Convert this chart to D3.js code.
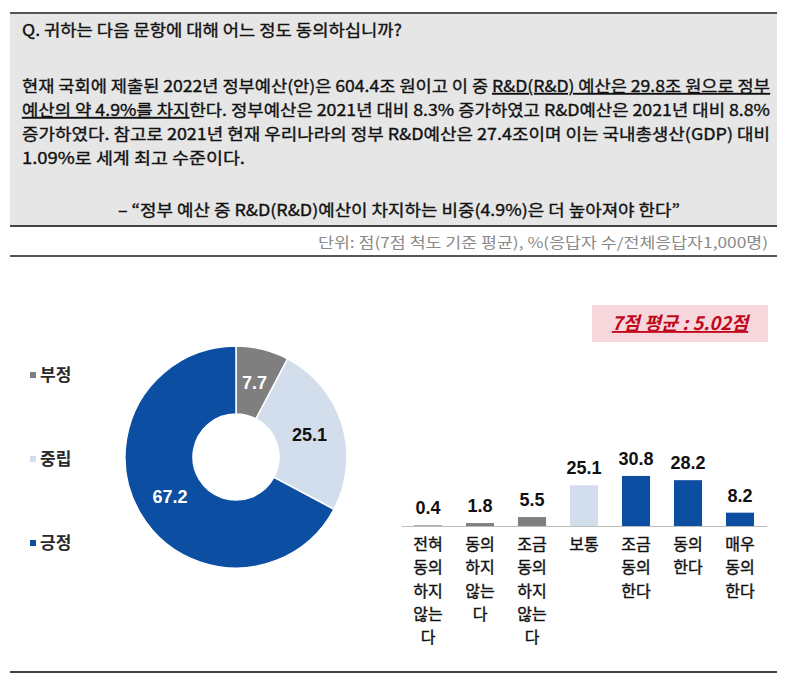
<!DOCTYPE html>
<html><head><meta charset="utf-8">
<script src="https://cdn.jsdelivr.net/npm/d3@7"></script>
<style>
body{margin:0;background:#fff;}
svg text{font-family:"Noto Sans CJK KR","Noto Sans",sans-serif;}
</style></head>
<body><svg id="c" width="787" height="681"></svg>
<script>
// ---- data ----
const questionTitle = "Q. 귀하는 다음 문항에 대해 어느 정도 동의하십니까?";
const paragraphLines = [
  [["현재 국회에 제출된 2022년 정부예산(안)은 604.4조 원이고 이 중 ", false], ["R&D(R&D) 예산은 29.8조 원으로 정부", true]],
  [["예산의 약 4.9%를 차지", true], ["한다. 정부예산은 2021년 대비 8.3% 증가하였고 R&D예산은 2021년 대비 8.8%", false]],
  [["증가하였다. 참고로 2021년 현재 우리나라의 정부 R&D예산은 27.4조이며 이는 국내총생산(GDP) 대비", false]],
  [["1.09%로 세계 최고 수준이다.", false]]
];
const quoteLine = "– “정부 예산 중 R&D(R&D)예산이 차지하는 비중(4.9%)은 더 높아져야 한다”";
const unitText = "단위: 점(7점 척도 기준 평균), %(응답자 수/전체응답자1,000명)";
const pieCategories = ["부정", "중립", "긍정"];
const pieValues = [7.7, 25.1, 67.2];
const barCategories = [
  ["전혀","동의","하지","않는","다"],
  ["동의","하지","않는","다"],
  ["조금","동의","하지","않는","다"],
  ["보통"],
  ["조금","동의","한다"],
  ["동의","한다"],
  ["매우","동의","한다"]
];
const barValues = [0.4, 1.8, 5.5, 25.1, 30.8, 28.2, 8.2];
const barGroups = ["부정","부정","부정","중립","긍정","긍정","긍정"];
const meanLabel = "7점 평균 : 5.02점";

// ---- styles ----
const colors = d3.scaleOrdinal().domain(pieCategories).range(["#7f7f7f", "#d3deec", "#0b4ea2"]);
const pieLabelColors = {"부정":"#fff","중립":"#111","긍정":"#fff"};

const svg = d3.select("#c");

// header box
svg.append("rect").attr("x",10).attr("y",13).attr("width",767).attr("height",213).attr("fill","#e6e6e6");
svg.append("line").attr("x1",10).attr("x2",777).attr("y1",13).attr("y2",13).attr("stroke","#555").attr("stroke-width",2);
svg.append("line").attr("x1",10).attr("x2",777).attr("y1",226).attr("y2",226).attr("stroke","#444").attr("stroke-width",2);
svg.append("line").attr("x1",10).attr("x2",777).attr("y1",256).attr("y2",256).attr("stroke","#555").attr("stroke-width",2);
svg.append("line").attr("x1",10).attr("x2",777).attr("y1",672).attr("y2",672).attr("stroke","#444").attr("stroke-width",2);

const heavy = sel => sel.attr("stroke","#111").attr("stroke-width",0.35);

heavy(svg.append("text").attr("x",22).attr("y",36).attr("font-size",16).attr("fill","#111")
  .attr("textLength",380).attr("lengthAdjust","spacingAndGlyphs").text(questionTitle));

paragraphLines.forEach((segs,i)=>{
  const t = svg.append("text").attr("x",22).attr("y",92+i*24).attr("font-size",16).attr("fill","#111");
  heavy(t);
  if (i < 3) t.attr("textLength", 748).attr("lengthAdjust","spacingAndGlyphs");
  else t.attr("textLength", 223).attr("lengthAdjust","spacingAndGlyphs");
  segs.forEach(([s,u])=>{
    const ts = t.append("tspan").text(s);
    if (u) ts.attr("text-decoration","underline");
  });
});
heavy(svg.append("text").attr("x",399).attr("y",216).attr("text-anchor","middle").attr("font-size",16).attr("fill","#111")
  .attr("textLength",562).attr("lengthAdjust","spacingAndGlyphs").text(quoteLine));

svg.append("text").attr("x",768).attr("y",248).attr("text-anchor","end").attr("font-size",14.5).attr("fill","#8a8a8a")
  .attr("textLength",450).attr("lengthAdjust","spacingAndGlyphs").text(unitText);

// ---- donut ----
const cx = 236, cy = 457;
const pie = d3.pie().sort(null).value(d=>d.v);
const arcs = pie(pieCategories.map((c,i)=>({c, v: pieValues[i]})));
const arc = d3.arc().innerRadius(43).outerRadius(111);
const labelArc = d3.arc().innerRadius(77).outerRadius(77);
const g = svg.append("g").attr("transform",`translate(${cx},${cy})`);
g.selectAll("path").data(arcs).join("path").attr("d",arc).attr("fill",d=>colors(d.data.c)).attr("stroke","#fff").attr("stroke-width",1.5);
g.selectAll("text").data(arcs).join("text")
  .attr("transform",d=>`translate(${labelArc.centroid(d)})`)
  .attr("text-anchor","middle").attr("dy","0.35em")
  .style("font-family","'Liberation Sans',Arial,sans-serif").attr("font-weight","bold").attr("font-size",18)
  .attr("fill",d=>pieLabelColors[d.data.c]).text(d=>d.data.v.toFixed(1));

// legend
const leg = svg.append("g");
pieCategories.forEach((c,i)=>{
  const y = 375 + i*84;
  leg.append("rect").attr("x",30).attr("y",y-3).attr("width",6).attr("height",6).attr("fill",colors(c));
  leg.append("text").attr("x",40).attr("y",y).attr("dy","0.36em").attr("font-size",17).attr("font-weight","bold").attr("fill","#2a2a2a").text(c);
});

// ---- bars ----
const x = d3.scaleBand().domain(d3.range(barValues.length)).range([402,766]).paddingInner(0.46).paddingOuter(0.23);
const y = d3.scaleLinear().domain([0,40]).range([526,461]);
const bg = svg.append("g");
bg.selectAll("rect").data(barValues).join("rect")
  .attr("x",(d,i)=>x(i)).attr("width",x.bandwidth())
  .attr("y",d=>y(d)).attr("height",d=>y(0)-y(d))
  .attr("fill",(d,i)=>colors(barGroups[i]));
bg.selectAll("text.v").data(barValues).join("text").attr("class","v")
  .attr("x",(d,i)=>x(i)+x.bandwidth()/2).attr("y",d=>y(d)-11)
  .attr("text-anchor","middle")
  .style("font-family","'Liberation Sans',Arial,sans-serif").attr("font-weight","bold").attr("font-size",18).attr("fill","#111")
  .text(d=>d.toFixed(1));
svg.append("line").attr("x1",402).attr("x2",767).attr("y1",526.5).attr("y2",526.5).attr("stroke","#bbb").attr("stroke-width",1);

barCategories.forEach((lines,i)=>{
  const t = svg.append("text").attr("text-anchor","middle").attr("font-size",16).attr("fill","#111")
    .attr("stroke","#111").attr("stroke-width",0.4);
  lines.forEach((l,j)=>{
    t.append("tspan").attr("x",x(i)+x.bandwidth()/2).attr("y",550+j*23.3).text(l);
  });
});

// mean annotation
svg.append("rect").attr("x",592).attr("y",305).attr("width",176).attr("height",37).attr("fill","#f7d7dc");
svg.append("text").attr("x",680).attr("y",330).attr("text-anchor","middle").attr("font-size",18.5).attr("font-weight","bold")
  .attr("font-style","italic").attr("text-decoration","underline").attr("fill","#c0081d").text(meanLabel);
</script></body></html>
